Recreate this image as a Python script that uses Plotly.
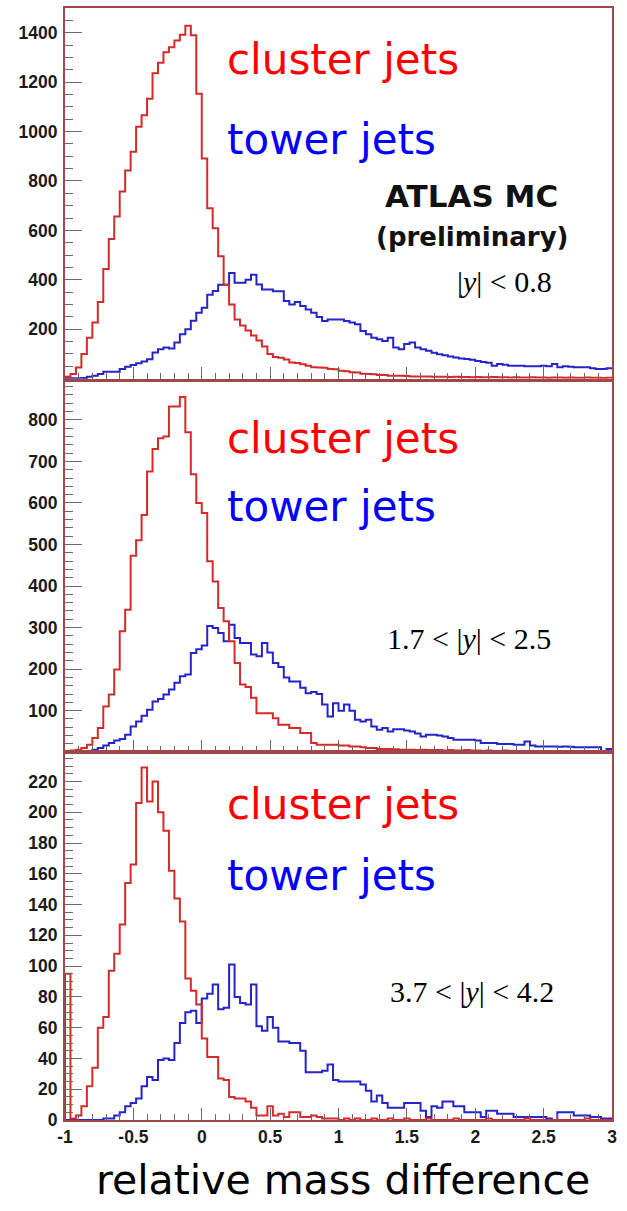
import numpy as np
import plotly.graph_objects as go

# ---------------- data ----------------
X_MIN, X_MAX, N_BINS = -1.0, 3.0, 100

P1_CLUSTER = [8, 19, 45, 100, 166, 227, 310, 444, 565, 656,
              757, 842, 918, 1019, 1066, 1133, 1236, 1278, 1321, 1341,
              1368, 1392, 1428, 1390, 1153, 891, 690, 609, 495, 380,
              300, 240, 215, 195, 175, 155, 130, 100, 88, 85,
              78, 66, 64, 58, 52, 46, 45, 44, 39, 38,
              32, 30, 26, 25, 20, 19, 18, 15, 15, 12,
              12, 12, 11, 9, 9, 9, 9, 8, 8, 8,
              7, 8, 7, 7, 6, 7, 6, 6, 7, 6,
              6, 5, 6, 5, 5, 6, 5, 5, 4, 5,
              5, 4, 5, 4, 4, 5, 4, 4, 3, 4]
P1_TOWER = [2, 2, 2, 3, 8, 12, 19, 28, 28, 28,
            39, 48, 55, 63, 70, 79, 106, 119, 126, 122,
            146, 180, 200, 234, 267, 287, 340, 355, 380, 380,
            428, 388, 388, 400, 421, 381, 361, 361, 354, 354,
            314, 300, 310, 294, 280, 267, 250, 233, 240, 240,
            240, 233, 227, 220, 193, 180, 166, 160, 153, 166,
            126, 119, 140, 146, 126, 119, 113, 105, 99, 95,
            90, 86, 82, 80, 77, 72, 68, 65, 52, 59,
            56, 52, 52, 52, 50, 50, 50, 52, 50, 59,
            46, 50, 48, 46, 46, 46, 42, 39, 39, 42]

P2_CLUSTER = [2, 4, 6, 10, 18, 34, 58, 110, 139, 199,
              291, 343, 473, 510, 571, 676, 730, 756, 760, 832,
              832, 855, 770, 669, 600, 576, 460, 411, 347, 315,
              267, 215, 163, 157, 131, 94, 94, 94, 82, 66,
              66, 58, 58, 46, 46, 22, 18, 18, 18, 18,
              16, 16, 14, 14, 12, 10, 10, 8, 8, 8,
              7, 6, 6, 6, 5, 6, 5, 5, 5, 4,
              5, 4, 4, 5, 4, 4, 3, 4, 3, 3,
              4, 3, 3, 3, 2, 3, 3, 2, 3, 2,
              2, 3, 2, 2, 2, 2, 1, 2, 2, 1]
P2_TOWER = [0, 0, 0, 1, 3, 6, 10, 16, 22, 28,
            32, 42, 62, 74, 88, 102, 122, 128, 139, 151,
            167, 183, 187, 239, 248, 257, 304, 299, 287, 267,
            307, 275, 263, 263, 235, 231, 263, 240, 215, 205,
            180, 170, 170, 155, 142, 145, 140, 115, 86, 118,
            100, 115, 100, 78, 74, 78, 62, 54, 58, 50,
            55, 55, 52, 50, 45, 38, 42, 42, 40, 38,
            34, 30, 30, 30, 30, 28, 22, 22, 22, 20,
            20, 20, 18, 18, 26, 16, 14, 14, 14, 14,
            13, 14, 13, 12, 12, 12, 12, 12, 2, 8]

P3_CLUSTER = [95, 1, 3, 9, 22, 34, 60, 67, 97, 108,
              127, 154, 166, 206, 229, 207, 220, 200, 188, 162,
              144, 129, 92, 84, 75, 53, 41, 41, 27, 26,
              15, 14, 14, 12, 8, 3, 3, 9, 3, 4,
              2, 5, 5, 2, 2, 3, 2, 1, 1, 1,
              0, 1, 0, 1, 0, 0, 1, 0, 0, 1,
              0, 0, 1, 0, 0, 0, 1, 0, 0, 0,
              0, 1, 0, 0, 0, 0, 0, 1, 0, 0,
              0, 0, 0, 0, 1, 0, 0, 0, 0, 0,
              0, 0, 0, 0, 0, 1, 0, 0, 0, 0]
P3_TOWER = [0, 0, 0, 0, 0, 0, 0, 1, 1, 3,
            5, 9, 11, 14, 22, 28, 26, 39, 40, 39,
            50, 63, 70, 71, 63, 79, 82, 88, 72, 73,
            101, 80, 76, 75, 88, 61, 58, 67, 60, 51,
            51, 50, 50, 45, 31, 31, 31, 32, 36, 26,
            25, 25, 25, 25, 23, 19, 12, 16, 11, 8,
            8, 8, 11, 11, 11, 6, 2, 9, 8, 12,
            12, 9, 9, 5, 5, 5, 2, 6, 6, 4,
            4, 4, 2, 2, 2, 2, 2, 2, 1, 0,
            5, 5, 5, 3, 3, 3, 2, 2, 1, 1]

X_TICKS = [-1, -0.5, 0, 0.5, 1, 1.5, 2, 2.5, 3]
X_TICK_LABELS = ["-1", "-0.5", "0", "0.5", "1", "1.5", "2", "2.5", "3"]

P1_YTICKS = [200, 400, 600, 800, 1000, 1200, 1400]
P2_YTICKS = [100, 200, 300, 400, 500, 600, 700, 800]
P3_YTICKS = [0, 20, 40, 60, 80, 100, 120, 140, 160, 180, 200, 220]

RAPIDITY_LABELS = ["|<i>y</i>| &lt; 0.8",
                   "1.7 &lt; |<i>y</i>| &lt; 2.5",
                   "3.7 &lt; |<i>y</i>| &lt; 4.2"]

# ---------------- style ----------------
W, H = 627, 1211
RED_LINE = "#d42a2a"
BLUE_LINE = "#2424c8"
FRAME = "#a04848"
TICKC = "#6a6a6a"
TICKFONT = dict(family="Liberation Sans, Arial, sans-serif", size=17.5,
                color="#1a1a1a", weight="bold")
COMIC = "DejaVu Sans, Verdana, sans-serif"


def px_x(px):
    return px / W


def px_y(py):
    return 1 - py / H


def steps(values):
    edges = np.linspace(X_MIN, X_MAX, N_BINS + 1)
    xs = [X_MIN] + list(edges)
    ys = [0] + list(values) + [values[-1]]
    return xs, ys


panels = [
    dict(cl=P1_CLUSTER, tw=P1_TOWER, top=8, bot=378.7, yr=[0, 1500],
         ytv=P1_YTICKS, minor=50),
    dict(cl=P2_CLUSTER, tw=P2_TOWER, top=381.7, bot=752.2, yr=[0, 892],
         ytv=P2_YTICKS, minor=20),
    dict(cl=P3_CLUSTER, tw=P3_TOWER, top=752.2, bot=1120, yr=[0, 239],
         ytv=P3_YTICKS, minor=5),
]

fig = go.Figure()
layout_axes = {}
for i, p in enumerate(panels, start=1):
    xa = "x" if i == 1 else f"x{i}"
    ya = "y" if i == 1 else f"y{i}"
    for vals, col in ((p["tw"], BLUE_LINE), (p["cl"], RED_LINE)):
        xs, ys = steps(vals)
        fig.add_trace(go.Scatter(x=xs, y=ys, mode="lines", xaxis=xa, yaxis=ya,
                                 line=dict(color=col, width=2, shape="hv"),
                                 hoverinfo="skip"))
    xkey = "xaxis" if i == 1 else f"xaxis{i}"
    ykey = "yaxis" if i == 1 else f"yaxis{i}"
    layout_axes[xkey] = dict(
        domain=[px_x(65), px_x(612)], range=[X_MIN, X_MAX], anchor=ya,
        automargin=False,
        showline=True, linecolor=FRAME, linewidth=2, mirror=True,
        showgrid=False, zeroline=False,
        ticks="inside", ticklen=12, tickwidth=1.2, tickcolor=TICKC,
        tickmode="array", tickvals=X_TICKS, ticktext=X_TICK_LABELS,
        showticklabels=(i == 3), tickfont=TICKFONT,
        minor=dict(ticks="inside", ticklen=6, tickwidth=1, tickcolor=TICKC,
                   tickmode="linear", tick0=X_MIN, dtick=0.1, showgrid=False),
    )
    layout_axes[ykey] = dict(
        domain=[px_y(p["bot"]), px_y(p["top"])], range=p["yr"], anchor=xa,
        automargin=False,
        showline=True, linecolor=FRAME, linewidth=2, mirror=True,
        showgrid=False, zeroline=False,
        ticks="inside", ticklen=17, tickwidth=1.2, tickcolor=TICKC,
        tickmode="array", tickvals=p["ytv"], tickfont=TICKFONT,
        ticklabelstandoff=2,
        minor=dict(ticks="inside", ticklen=8, tickwidth=1, tickcolor=TICKC,
                   tickmode="linear", tick0=0, dtick=p["minor"], showgrid=False),
    )

annotations = []
baselines = [(72, 152), (450, 518), (817, 887)]
for (bc, bt) in baselines:
    annotations.append(dict(text="cluster jets", x=px_x(225), y=px_y(bc - 12),
                            xanchor="left", yanchor="middle",
                            font=dict(family=COMIC, size=42, color="#ff0000")))
    annotations.append(dict(text="tower jets", x=px_x(225), y=px_y(bt - 12),
                            xanchor="left", yanchor="middle",
                            font=dict(family=COMIC, size=42, color="#0000ff")))

annotations.append(dict(text="<b>ATLAS MC</b>", x=px_x(471), y=px_y(196),
                        xanchor="center", yanchor="middle",
                        font=dict(family="DejaVu Sans, sans-serif", size=31, color="#111")))
annotations.append(dict(text="<b>(preliminary)</b>", x=px_x(472), y=px_y(237),
                        xanchor="center", yanchor="middle",
                        font=dict(family="DejaVu Sans, sans-serif", size=26, color="#111")))

rap_pos = [(504, 281), (469, 639), (472, 991)]
for txt, (cx, cy) in zip(RAPIDITY_LABELS, rap_pos):
    annotations.append(dict(text=txt, x=px_x(cx), y=px_y(cy),
                            xanchor="center", yanchor="middle",
                            font=dict(family="Liberation Serif, Times New Roman, serif",
                                      size=30, color="#000")))

annotations.append(dict(text="relative mass difference", x=px_x(343), y=px_y(1180),
                        xanchor="center", yanchor="middle",
                        font=dict(family=COMIC, size=41, color="#000")))

for a in annotations:
    a.update(xref="paper", yref="paper", showarrow=False)

fig.update_layout(width=W, height=H, margin=dict(l=0, r=0, t=0, b=0),
                  paper_bgcolor="white", plot_bgcolor="white",
                  showlegend=False, annotations=annotations, **layout_axes)

fig.write_html("out.html")
